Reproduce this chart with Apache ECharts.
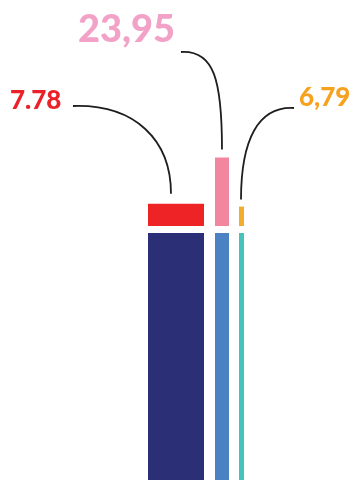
<!DOCTYPE html>
<html>
<head>
<meta charset="utf-8">
<style>
  html, body { margin: 0; padding: 0; background: #ffffff; }
  #chart { width: 355px; height: 480px; }
</style>
<script src="https://cdn.jsdelivr.net/npm/echarts@6/dist/echarts.min.js"></script>
</head>
<body>
<div id="chart"></div>
<script>
// Upper segments (labelled values) and the lower columns that run off the bottom edge
const groups = ['A', 'B', 'C'];
const topValues = [7.78, 23.95, 6.79];
const baseValues = [85, 85, 85];
const labelTexts = ['7.78', '23,95', '6,79'];

const topColors = ['#ee2326', '#f3869f', '#f0ae2c'];
const baseColors = ['#2a2f76', '#4a82c3', '#46c3ba'];
const labelColors = ['#ea2128', '#f2a2c7', '#f7a21f'];
const barWidths = [56, 14, 5];
const gapWidths = [11, 10];

const FONT = 'Lato, "Open Sans", sans-serif';

function buildSeries(gridIndex, values, colors) {
  const out = [];
  values.forEach((v, i) => {
    out.push({
      type: 'bar',
      name: groups[i],
      xAxisIndex: gridIndex,
      yAxisIndex: gridIndex,
      data: [v],
      barWidth: barWidths[i],
      barGap: '0%',
      itemStyle: { color: colors[i] },
      silent: true,
      animation: false
    });
    if (i < gapWidths.length) {
      // empty spacer column keeping the bars apart
      out.push({
        type: 'bar',
        xAxisIndex: gridIndex,
        yAxisIndex: gridIndex,
        data: [0],
        barWidth: gapWidths[i],
        barGap: '0%',
        itemStyle: { color: 'rgba(0,0,0,0)' },
        silent: true,
        animation: false
      });
    }
  });
  return out;
}

const chart = echarts.init(document.getElementById('chart'), null, { renderer: 'canvas' });

const hiddenAxis = { show: false };
chart.setOption({
  animation: false,
  grid: [
    { left: 148, width: 96, top: 0, bottom: 254 },
    { left: 148, width: 96, top: 233, bottom: 0 }
  ],
  xAxis: [
    Object.assign({ type: 'category', data: [''], gridIndex: 0 }, hiddenAxis),
    Object.assign({ type: 'category', data: [''], gridIndex: 1 }, hiddenAxis)
  ],
  yAxis: [
    Object.assign({ type: 'value', min: 0, max: 79, gridIndex: 0 }, hiddenAxis),
    Object.assign({ type: 'value', min: 0, max: 85, inverse: true, gridIndex: 1 }, hiddenAxis)
  ],
  series: buildSeries(0, topValues, topColors).concat(buildSeries(1, baseValues, baseColors))
});

// Leader curves: anchored at each upper segment's top, bent out to its label
function barTop(i) {
  const seriesIndex = i * 2; // real bars sit at even indices in the upper grid
  const layout = chart.getModel().getSeriesByIndex(seriesIndex).getData().getItemLayout(0);
  return { x: layout.x + layout.width / 2, y: layout.y + layout.height };
}

const r = barTop(0), p = barTop(1), o = barTop(2);
const ends = [
  { x: r.x - 5, y: r.y - 10 },
  { x: p.x, y: p.y - 8 },
  { x: o.x - 0.5, y: o.y - 7 }
];

const curves = [
  { x1: 73, y1: 106, cpx1: 135, cpy1: 104, cpx2: ends[0].x, cpy2: 140, x2: ends[0].x, y2: ends[0].y },
  { x1: 181, y1: 52, cpx1: 214, cpy1: 50, cpx2: ends[1].x, cpy2: 80, x2: ends[1].x, y2: ends[1].y },
  { x1: 294, y1: 108, cpx1: 258, cpy1: 106, cpx2: ends[2].x, cpy2: 140, x2: ends[2].x, y2: ends[2].y }
];

const labels = [
  { x: 10, y: 101, size: 26 },
  { x: 78, y: 30, size: 38 },
  { x: 299, y: 98, size: 26 }
];

const graphics = [];
curves.forEach((c) => {
  graphics.push({
    type: 'bezierCurve',
    shape: c,
    style: { stroke: '#1e1e1e', lineWidth: 1.8, fill: null },
    silent: true
  });
});
labels.forEach((l, i) => {
  graphics.push({
    type: 'text',
    x: l.x,
    y: l.y,
    style: {
      text: labelTexts[i],
      fill: labelColors[i],
      font: '900 ' + l.size + 'px ' + FONT,
      textAlign: 'left',
      textVerticalAlign: 'middle'
    },
    silent: true
  });
});

chart.setOption({ graphic: graphics });
</script>
</body>
</html>
